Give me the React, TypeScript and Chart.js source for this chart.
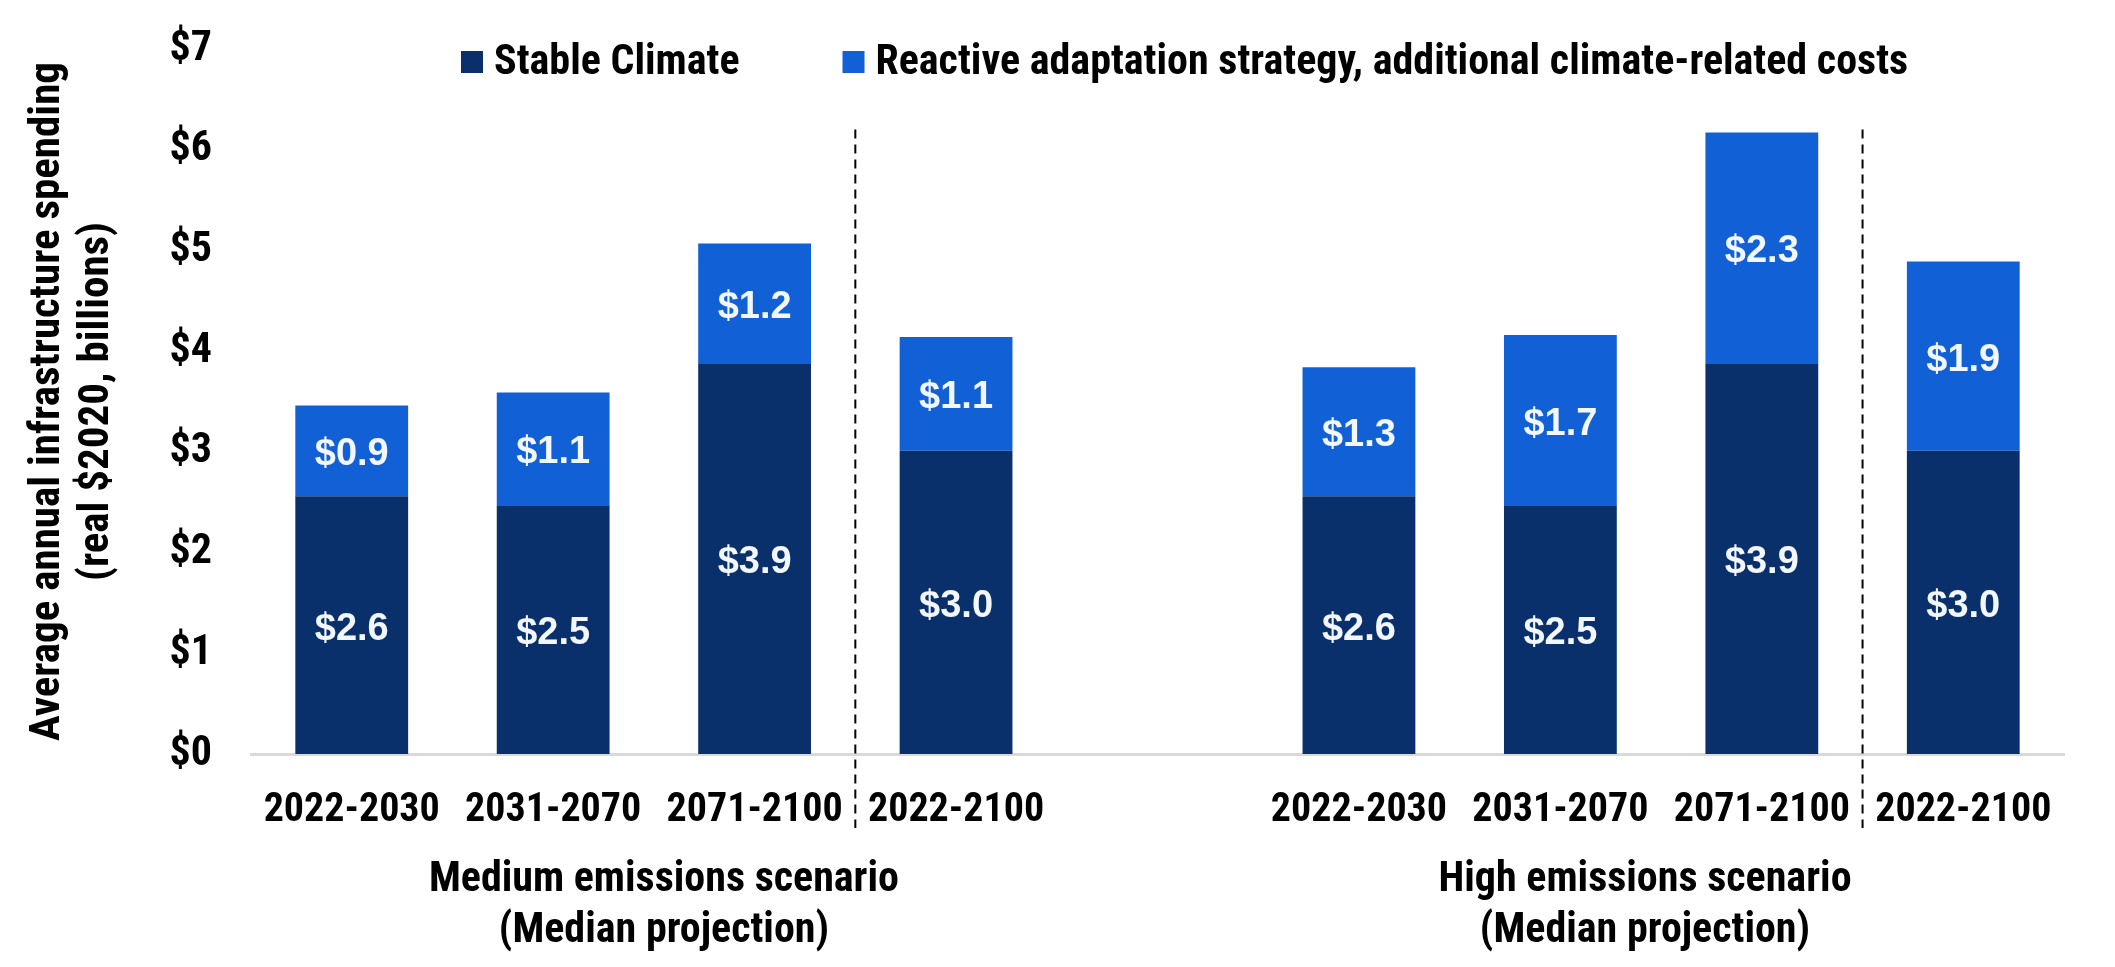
import React, { useEffect, useRef } from "react";
import { Chart, registerables } from "chart.js";

Chart.register(...registerables);

const categories = [
  "2022-2030",
  "2031-2070",
  "2071-2100",
  "2022-2100",
  "",
  "2022-2030",
  "2031-2070",
  "2071-2100",
  "2022-2100",
];
const stableClimate = [2.56, 2.47, 3.88, 3.01, null, 2.56, 2.47, 3.88, 3.01];
const reactiveAdaptation = [0.9, 1.12, 1.19, 1.13, null, 1.28, 1.69, 2.29, 1.88];
const seriesNames = [
  "Stable Climate",
  "Reactive adaptation strategy, additional climate-related costs",
];
const yTicks = [0, 1, 2, 3, 4, 5, 6, 7];
const yTitle = ["Average annual infrastructure spending", "(real $2020, billions)"];
const groupLabels = [
  { at: 1.55, lines: ["Medium emissions scenario", "(Median projection)"] },
  { at: 6.42, lines: ["High emissions scenario", "(Median projection)"] },
];
const dividerPositions = [2.5, 7.5];

const NAVY = "#0A306B";
const BLUE = "#1160D6";
const NARROW = '"Roboto Condensed", Roboto, "DejaVu Sans Condensed", sans-serif';
const NARROW_WEIGHT = "bold condensed";
const WIDE = '"Liberation Sans", Arial, sans-serif';

function narrowFont(ctx: any, size: number) {
  ctx.font = `bold condensed ${size}px ${NARROW}`;
  try {
    ctx.fontStretch = "condensed";
  } catch (e) {}
}

const overlayPlugin = {
  id: "overlay",
  afterDatasetsDraw(chart: any) {
    const ctx = chart.ctx;
    ctx.save();
    ctx.font = `bold 38px ${WIDE}`;
    ctx.fillStyle = "#F2F6FD";
    ctx.textAlign = "center";
    ctx.textBaseline = "middle";
    chart.data.datasets.forEach((ds: any, i: number) => {
      const meta = chart.getDatasetMeta(i);
      meta.data.forEach((el: any, j: number) => {
        const v = ds.data[j];
        if (v === null || v === undefined) return;
        const y = (el.y + el.base) / 2;
        ctx.fillText("$" + v.toFixed(1), el.x, y + 4);
      });
    });
    ctx.restore();
  },
  afterDraw(chart: any) {
    const ctx = chart.ctx;
    const xs = chart.scales.x;
    const ys = chart.scales.y;
    const area = chart.chartArea;
    ctx.save();
    // dashed dividers
    ctx.strokeStyle = "#000";
    ctx.lineWidth = 2;
    ctx.setLineDash([9, 6]);
    dividerPositions.forEach((p) => {
      const x = xs.getPixelForValue(p);
      ctx.beginPath();
      ctx.moveTo(x, ys.getPixelForValue(6.2));
      ctx.lineTo(x, area.bottom + 74);
      ctx.stroke();
    });
    ctx.setLineDash([]);
    // group labels
    ctx.fillStyle = "#000";
    narrowFont(ctx, 42);
    ctx.textAlign = "center";
    ctx.textBaseline = "middle";
    groupLabels.forEach((g) => {
      const x = xs.getPixelForValue(g.at);
      g.lines.forEach((line, k) => {
        ctx.fillText(line, x, area.bottom + 126 + k * 51);
      });
    });
    // legend
    const colors = [NAVY, BLUE];
    let lx = area.left + 210;
    const ly = 62;
    ctx.textAlign = "left";
    seriesNames.forEach((name, i) => {
      ctx.fillStyle = colors[i];
      ctx.fillRect(lx, ly - 11, 22, 22);
      ctx.fillStyle = "#000";
      ctx.fillText(name, lx + 33, ly + 1);
      lx += 33 + ctx.measureText(name).width + 103;
    });
    ctx.restore();
  },
};

export default function App() {
  const ref = useRef<HTMLCanvasElement | null>(null);
  useEffect(() => {
    if (!ref.current) return;
    const chart = new Chart(ref.current, {
      type: "bar",
      data: {
        labels: categories,
        datasets: [
          {
            label: seriesNames[0],
            data: stableClimate,
            backgroundColor: NAVY,
            barPercentage: 0.56,
            categoryPercentage: 1,
          },
          {
            label: seriesNames[1],
            data: reactiveAdaptation,
            backgroundColor: BLUE,
            barPercentage: 0.56,
            categoryPercentage: 1,
          },
        ],
      },
      options: {
        animation: false,
        responsive: false,
        devicePixelRatio: 1,
        layout: { padding: { top: 49, right: 51, bottom: 0, left: 0 } },
        plugins: {
          legend: { display: false },
          tooltip: { enabled: false },
        },
        scales: {
          x: {
            stacked: true,
            offset: true,
            grid: { display: false, drawTicks: false },
            border: { display: true, color: "#D9D9D9", width: 3 },
            ticks: {
              color: "#000",
              font: { family: NARROW, size: 40, weight: NARROW_WEIGHT as any },
              padding: 33,
              maxRotation: 0,
              autoSkip: false,
            },
            afterFit: (scale: any) => {
              scale.height = 213;
              scale.paddingLeft = 0;
              scale.paddingRight = 0;
            },
          },
          y: {
            stacked: true,
            min: 0,
            max: 7,
            grid: { display: false, drawTicks: false },
            border: { display: false },
            afterBuildTicks: (scale: any) => {
              scale.ticks = yTicks.map((v) => ({ value: v }));
            },
            ticks: {
              color: "#000",
              font: { family: NARROW, size: 42, weight: NARROW_WEIGHT as any },
              padding: 39,
              callback: (v: any) => "$" + v,
            },
            title: {
              display: true,
              text: yTitle,
              color: "#000",
              font: { family: NARROW, size: 43, weight: NARROW_WEIGHT as any, lineHeight: 1.13 },
              padding: { top: 24, bottom: 0 },
            },
            afterFit: (scale: any) => {
              scale.width = 251;
              scale.paddingTop = 0;
              scale.paddingBottom = 0;
            },
          },
        },
      },
      plugins: [overlayPlugin],
    });
    return () => chart.destroy();
  }, []);
  return (
    <div style={{ position: "absolute", left: 0, top: 0, width: 2115, height: 967, background: "#fff" }}>
      <canvas ref={ref} width={2115} height={967} style={{ display: "block" }} />
    </div>
  );
}
